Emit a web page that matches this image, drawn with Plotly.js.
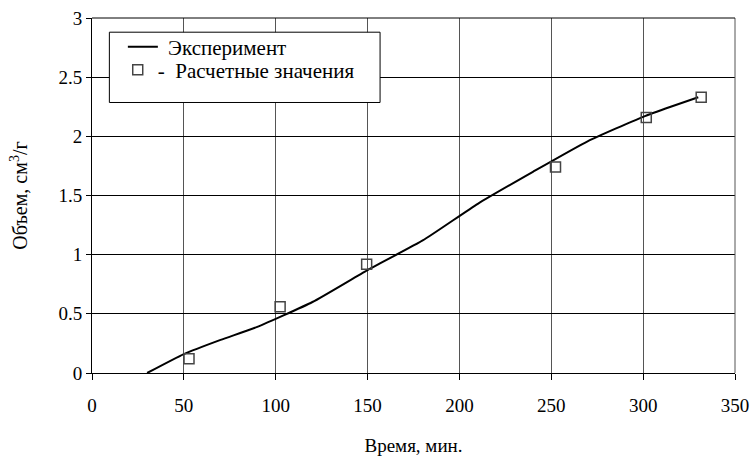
<!DOCTYPE html>
<html>
<head>
<meta charset="utf-8">
<script src="https://cdn.plot.ly/plotly-3.0.1.min.js"></script>
<style>html,body{margin:0;padding:0;background:#fff;}#chart{width:756px;height:456px;}</style>
</head>
<body>
<div id="chart"></div>
<script>
// Experimental curve
const expTime = [30, 50, 70, 90, 120, 150, 180, 210, 240, 270, 300, 315, 330];
const expVolume = [0, 0.16, 0.28, 0.39, 0.60, 0.87, 1.12, 1.43, 1.70, 1.96, 2.165, 2.25, 2.33];
// Calculated values
const calcTime = [52.8, 102.4, 149.5, 252.3, 301.7, 331.6];
const calcVolume = [0.12, 0.56, 0.92, 1.74, 2.16, 2.33];
const xTicks = [0, 50, 100, 150, 200, 250, 300, 350];
const yTicks = [0, 0.5, 1, 1.5, 2, 2.5, 3];

const serif = 'Liberation Serif';

const traces = [
  {
    x: expTime, y: expVolume, type: 'scatter', mode: 'lines',
    name: '\u00a0Эксперимент', legend: 'legend',
    line: {color: '#000', width: 2, shape: 'spline', smoothing: 0.5}
  },
  {
    x: calcTime, y: calcVolume, type: 'scatter', mode: 'markers',
    name: '-\u00a0\u00a0Расчетные значения', legend: 'legend2',
    marker: {symbol: 'square-open', size: 10, color: '#444', line: {width: 1.5, color: '#444'}}
  }
];

const legendFont = {family: serif, size: 21, color: '#000'};

const layout = {
  width: 756, height: 456,
  margin: {l: 92, r: 21, t: 18, b: 83},
  paper_bgcolor: '#fff', plot_bgcolor: '#fff',
  font: {family: serif, color: '#000', size: 19},
  showlegend: true,
  legend: {
    x: 0.048, y: 0.918, xanchor: 'left', yanchor: 'middle',
    bgcolor: 'rgba(0,0,0,0)', borderwidth: 0, font: legendFont
  },
  legend2: {
    x: 0.04, y: 0.853, xanchor: 'left', yanchor: 'middle',
    bgcolor: 'rgba(0,0,0,0)', borderwidth: 0, font: legendFont
  },
  xaxis: {
    range: [0, 350], tickvals: xTicks, ticktext: xTicks.map(String),
    showgrid: true, gridcolor: '#555', gridwidth: 1,
    showline: true, linecolor: '#000', linewidth: 1, mirror: false,
    ticks: 'outside', ticklen: 6, tickcolor: '#000',
    tickfont: {family: serif, size: 19, color: '#000'},
    ticklabelstandoff: 9,
    zeroline: false,
    title: {text: 'Время, мин.', font: {family: serif, size: 19, color: '#000'}, standoff: 23}
  },
  yaxis: {
    range: [0, 3], tickvals: yTicks, ticktext: yTicks.map(String),
    showgrid: true, gridcolor: '#000', gridwidth: 1,
    showline: true, linecolor: '#000', linewidth: 1,
    ticks: 'outside', ticklen: 5, tickcolor: '#000',
    tickfont: {family: serif, size: 19, color: '#000'},
    zeroline: false,
    title: {text: 'Объем, см<sup>3</sup>/г', font: {family: serif, size: 20, color: '#000'}, standoff: 25}
  },
  shapes: [
    {type: 'line', xref: 'paper', yref: 'paper', x0: 1, x1: 1, y0: 0, y1: 1, line: {color: '#555', width: 1}},
    {type: 'line', xref: 'paper', yref: 'paper', x0: 0, x1: 1, y0: 1, y1: 1, line: {color: '#000', width: 1}},
    {type: 'rect', xref: 'paper', yref: 'paper', x0: 0.027, x1: 0.448, y0: 0.762, y1: 0.96,
     fillcolor: '#fff', line: {color: '#000', width: 1}, layer: 'above'}
  ]
};

Plotly.newPlot('chart', traces, layout, {displayModeBar: false, staticPlot: true});
</script>
</body>
</html>
